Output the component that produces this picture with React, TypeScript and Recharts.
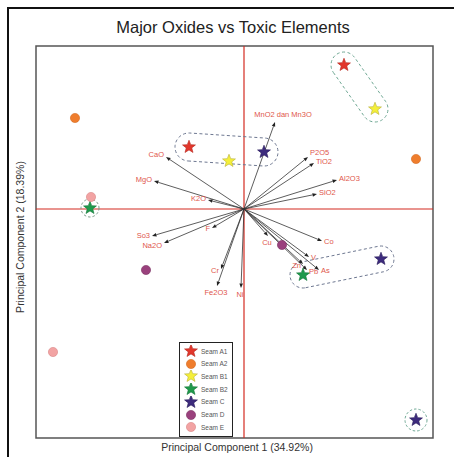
import React from "react";
import {
  ScatterChart,
  Scatter,
  XAxis,
  YAxis,
  ReferenceLine,
  ReferenceArea,
  ReferenceDot,
} from "recharts";

// PCA scores per seam (PC1, PC2)
const seamA1 = [{ x: 1.0, y: 1.44 }, { x: -0.55, y: 0.62 }];
const seamA2 = [{ x: -1.69, y: 0.91 }, { x: 1.72, y: 0.5 }];
const seamB1 = [{ x: 1.31, y: 1.0 }, { x: -0.15, y: 0.48 }];
const seamB2 = [{ x: -1.54, y: 0.01 }, { x: 0.59, y: -0.66 }];
const seamC = [{ x: 0.2, y: 0.57 }, { x: 1.37, y: -0.5 }, { x: 1.72, y: -2.11 }];
const seamD = [{ x: -0.98, y: -0.61 }, { x: 0.38, y: -0.36 }];
const seamE = [{ x: -1.53, y: 0.12 }, { x: -1.91, y: -1.43 }];

// loadings
const vectorNames = [
  "MnO2 dan Mn3O", "CaO", "MgO", "K2O", "P2O5", "TiO2", "Al2O3", "SiO2",
  "So3", "Na2O", "F", "Cr", "Fe2O3", "Ni", "Cu", "Co", "V", "As", "Pb", "Zn",
];
const vectorX = [0.31, -0.78, -0.9, -0.36, 0.64, 0.7, 0.93, 0.73, -0.92, -0.8, -0.32, -0.23, -0.27, -0.03, 0.24, 0.78, 0.65, 0.75, 0.63, 0.59];
const vectorY = [0.87, 0.52, 0.28, 0.09, 0.52, 0.46, 0.29, 0.15, -0.27, -0.34, -0.19, -0.6, -0.77, -0.79, -0.27, -0.32, -0.48, -0.61, -0.61, -0.55];

const X_DOMAIN: [number, number] = [-2.08, 1.89];
const Y_DOMAIN: [number, number] = [-2.29, 1.63];

type Mark = "star" | "circle";
const seams: { name: string; data: { x: number; y: number }[]; fill: string; stroke: string; mark: Mark }[] = [
  { name: "Seam A1", data: seamA1, fill: "#e2372c", stroke: "#b52a22", mark: "star" },
  { name: "Seam A2", data: seamA2, fill: "#ef7d2d", stroke: "#d46a20", mark: "circle" },
  { name: "Seam B1", data: seamB1, fill: "#f4ef3a", stroke: "#b8b23a", mark: "star" },
  { name: "Seam B2", data: seamB2, fill: "#1f9a4b", stroke: "#16773a", mark: "star" },
  { name: "Seam C", data: seamC, fill: "#3d2b7d", stroke: "#2a1d5c", mark: "star" },
  { name: "Seam D", data: seamD, fill: "#9a417d", stroke: "#7b3062", mark: "circle" },
  { name: "Seam E", data: seamE, fill: "#f2a3a3", stroke: "#d98585", mark: "circle" },
];

const seamPoint = (name: string, i: number) => seams.find((s) => s.name === name)!.data[i];

// dashed groupings drawn around samples
const hullPairs: { a: [string, number]; b: [string, number]; r: number; color: string }[] = [
  { a: ["Seam A1", 0], b: ["Seam B1", 0], r: 13, color: "#6fa894" },
  { a: ["Seam A1", 1], b: ["Seam C", 0], r: 14, color: "#6e7891" },
  { a: ["Seam B2", 1], b: ["Seam C", 1], r: 13, color: "#6e7891" },
];
const hullRings: { p: [string, number]; r: number; color: string }[] = [
  { p: ["Seam B2", 0], r: 9, color: "#7a9a88" },
  { p: ["Seam C", 2], r: 11, color: "#6fa894" },
];

const labelSide: Record<string, "l" | "r" | "t" | "b"> = {
  "MnO2 dan Mn3O": "t", CaO: "l", MgO: "l", K2O: "l", P2O5: "r", TiO2: "r", Al2O3: "r", SiO2: "r",
  So3: "l", Na2O: "l", F: "l", Cr: "l", Fe2O3: "b", Ni: "b", Cu: "b", Co: "r", V: "r", As: "r", Pb: "r", Zn: "l",
};
// small vertical nudges so crowded labels do not collide
const labelNudge: Record<string, number> = { P2O5: -1.8, TiO2: 0.8, So3: -0.5, Na2O: 2.5 };

const FONT = "'Liberation Sans', Arial, sans-serif";
const LABEL_RED = "#e0564b";
const AXIS_RED = "#d42a20";

function starPoints(cx: number, cy: number, R: number, r: number) {
  const pts: string[] = [];
  for (let i = 0; i < 10; i++) {
    const rad = i % 2 === 0 ? R : r;
    const a = -Math.PI / 2 + (i * Math.PI) / 5;
    pts.push(`${cx + rad * Math.cos(a)},${cy + rad * Math.sin(a)}`);
  }
  return pts.join(" ");
}

function MarkShape({ cx, cy, fill, stroke, mark, size = 1 }: any) {
  if (cx == null || cy == null) return null;
  if (mark === "star")
    return <polygon points={starPoints(cx, cy, 6.8 * size, 2.9 * size)} fill={fill} stroke={stroke} strokeWidth={0.6} />;
  return <circle cx={cx} cy={cy} r={4.6 * size} fill={fill} stroke={stroke} strokeWidth={0.6} />;
}

function arrowShape(name: string) {
  return (p: any) => {
    const { x1, y1, x2, y2 } = p;
    const dx = x2 - x1;
    const dy = y2 - y1;
    const len = Math.hypot(dx, dy) || 1;
    const ux = dx / len;
    const uy = dy / len;
    const bx = x2 - ux * 4.5;
    const by = y2 - uy * 4.5;
    const wx = -uy * 1.8;
    const wy = ux * 1.8;
    const side = labelSide[name];
    const nudge = labelNudge[name] ?? 0;
    let tx = x2, ty = y2 + 2.5, anchor: "start" | "end" | "middle" = "middle";
    if (side === "l") { tx = x2 - 2; anchor = "end"; ty = y2 + 1.5 + uy * 3; }
    if (side === "r") { tx = x2 + 2; anchor = "start"; ty = y2 + 1.5 + uy * 3; }
    if (side === "t") { tx = x2 + 8; ty = y2 - 5; }
    if (side === "b") { tx = x2 - 1; ty = y2 + 9; }
    return (
      <g>
        <line x1={x1} y1={y1} x2={bx} y2={by} stroke="#333" strokeWidth={0.8} />
        <polygon points={`${x2},${y2} ${bx + wx},${by + wy} ${bx - wx},${by - wy}`} fill="#222" />
        <text x={tx} y={ty + nudge} textAnchor={anchor} fontSize={7.5} fontFamily={FONT} fill={LABEL_RED}>
          {name}
        </text>
      </g>
    );
  };
}

function capsuleShape(r: number, color: string) {
  return (p: any) => {
    const { x1, y1, x2, y2 } = p;
    const len = Math.hypot(x2 - x1, y2 - y1) || 1;
    const nx = (-(y2 - y1) / len) * r;
    const ny = ((x2 - x1) / len) * r;
    const d = `M${x1 + nx},${y1 + ny} L${x2 + nx},${y2 + ny} A${r},${r} 0 0 0 ${x2 - nx},${y2 - ny} L${x1 - nx},${y1 - ny} A${r},${r} 0 0 0 ${x1 + nx},${y1 + ny} Z`;
    return <path d={d} fill="none" stroke={color} strokeWidth={1} strokeDasharray="3 2.5" />;
  };
}

function LegendBox() {
  return (
    <div
      style={{
        position: "absolute", left: 179, top: 342, width: 52, height: 93,
        border: "1.5px solid #222", background: "#fff", boxSizing: "content-box",
      }}
    >
      {seams.map((s, i) => (
        <div key={s.name} style={{ position: "absolute", left: 3, top: 2 + i * 12.7, height: 12, display: "flex", alignItems: "center" }}>
          <svg width={16} height={12}>
            <MarkShape cx={8} cy={6} fill={s.fill} stroke={s.stroke} mark={s.mark} size={1} />
          </svg>
          <span style={{ fontFamily: FONT, fontSize: 6.5, color: "#555", marginLeft: 2 }}>{s.name}</span>
        </div>
      ))}
    </div>
  );
}

export default function App() {
  return (
    <div style={{ position: "relative", width: 454, height: 457, overflow: "hidden", background: "#fff" }}>
      <style>{`body{margin:0}`}</style>
      <div style={{ position: "absolute", left: 7, top: 7, width: 500, height: 500, borderLeft: "2.5px solid #111", borderTop: "2.5px solid #111" }} />
      <div style={{ position: "absolute", left: 0, width: 466, top: 18, textAlign: "center", fontFamily: FONT, fontSize: 16.5, color: "#222" }}>
        Major Oxides vs Toxic Elements
      </div>
      <div style={{ position: "absolute", left: 0, width: 474, top: 441, textAlign: "center", fontFamily: FONT, fontSize: 10.5, color: "#333" }}>
        Principal Component 1 (34.92%)
      </div>
      <div
        style={{
          position: "absolute", left: 20, top: 237, transform: "translate(-50%, -50%) rotate(-90deg)",
          whiteSpace: "nowrap", fontFamily: FONT, fontSize: 10.5, color: "#333",
        }}
      >
        Principal Component 2 (18.39%)
      </div>
      <div style={{ position: "absolute", left: 0, top: 0 }}>
        <ScatterChart width={454} height={457} margin={{ top: 46, right: 21, bottom: 19, left: 36 }}>
          <XAxis type="number" dataKey="x" domain={X_DOMAIN} allowDataOverflow hide />
          <YAxis type="number" dataKey="y" domain={Y_DOMAIN} allowDataOverflow hide />
          <ReferenceArea x1={X_DOMAIN[0]} x2={X_DOMAIN[1]} y1={Y_DOMAIN[0]} y2={Y_DOMAIN[1]} fill="none" stroke="#555" strokeWidth={1.5} />
          <ReferenceLine x={0} stroke={AXIS_RED} strokeWidth={1.2} />
          <ReferenceLine y={0} stroke={AXIS_RED} strokeWidth={1.2} />
          {hullPairs.map((h, i) => (
            <ReferenceLine
              key={`hull-${i}`}
              segment={[seamPoint(...h.a), seamPoint(...h.b)]}
              shape={capsuleShape(h.r, h.color)}
            />
          ))}
          {hullRings.map((h, i) => {
            const pt = seamPoint(...h.p);
            return (
              <ReferenceDot key={`ring-${i}`} x={pt.x} y={pt.y} r={h.r} fill="none" stroke={h.color} strokeWidth={1} strokeDasharray="2.5 2" />
            );
          })}
          {vectorNames.map((n, i) => (
            <ReferenceLine key={n} segment={[{ x: 0, y: 0 }, { x: vectorX[i], y: vectorY[i] }]} shape={arrowShape(n)} />
          ))}
          {seams.map((s) => (
            <Scatter
              key={s.name}
              name={s.name}
              data={s.data}
              isAnimationActive={false}
              shape={(p: any) => <MarkShape cx={p.cx} cy={p.cy} fill={s.fill} stroke={s.stroke} mark={s.mark} />}
            />
          ))}
        </ScatterChart>
      </div>
      <LegendBox />
    </div>
  );
}
